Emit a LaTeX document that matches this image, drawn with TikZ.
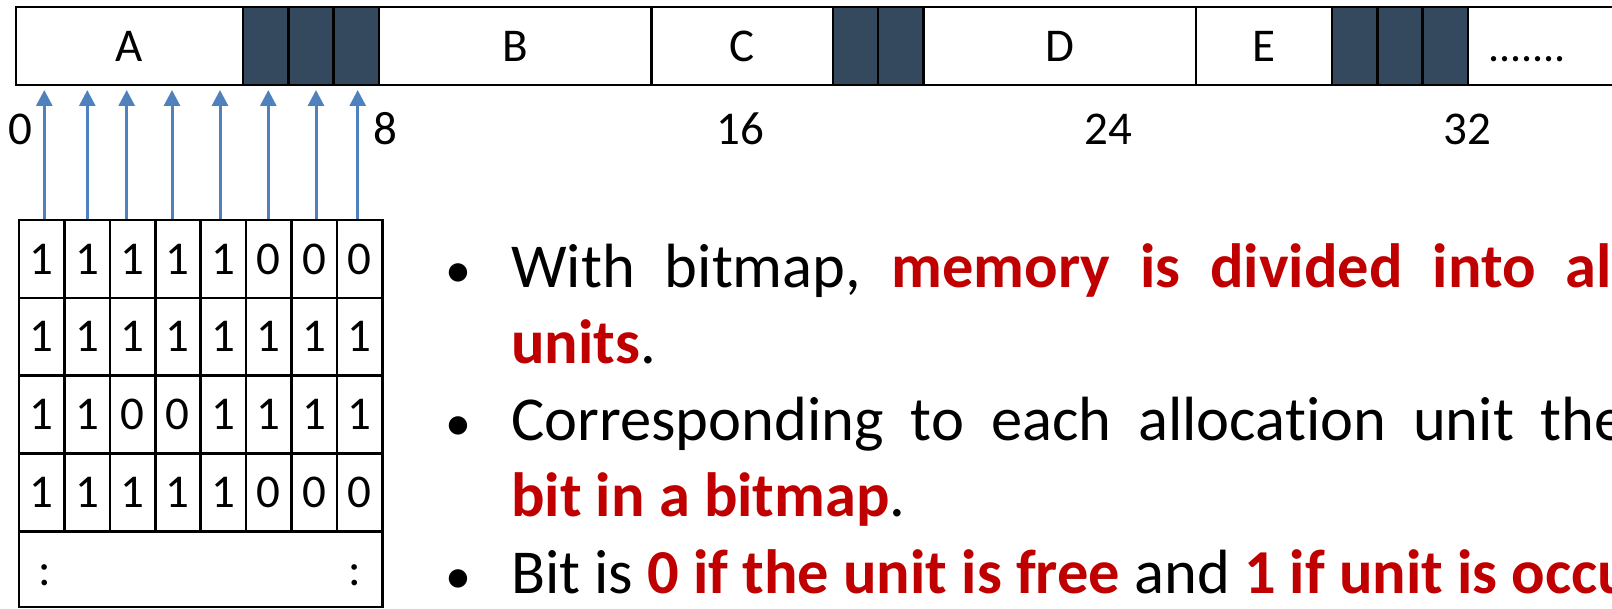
\documentclass[tikz,border=0pt]{standalone}
\usepackage{fontspec}
\setmainfont{Carlito}[Ligatures=NoCommon]
\usetikzlibrary{arrows.meta,calc}
\definecolor{unitused}{RGB}{52,73,94}
\definecolor{ptrblue}{RGB}{79,129,189}
\definecolor{hlred}{RGB}{192,0,0}
\newcommand\hl[1]{\textbf{\color{hlred}#1}}

\begin{document}
\begin{tikzpicture}[x=1pt,y=-1pt,
  seg/.style={draw=black,line width=2.4pt,inner sep=0,minimum height=78pt,
    font=\fontsize{47}{56}\selectfont},
  bitcell/.style={draw=black,line width=2.6pt,inner sep=0,minimum width=45.4pt,
    minimum height=77.9pt,font=\fontsize{47}{56}\selectfont},
  addr/.style={anchor=base,inner sep=0,font=\fontsize{47}{56}\selectfont},
  ptr/.style={draw=ptrblue,line width=3pt,-{Triangle[width=16pt,length=16pt]}},
  txt/.style={anchor=base west,inner sep=0,font=\fontsize{62.5}{75}\selectfont},
  bul/.style={anchor=base,inner sep=0,font=\fontsize{52}{62}\selectfont}]
\useasboundingbox (0,0) rectangle (1612,609);
\clip (0,0) rectangle (1612,609);

% memory strip: processes and free units
\foreach \n/\a/\b/\t/\f in {
  A/16/242.9/A/white, f1/242.9/288.3/{}/unitused, f2/288.3/333.6/{}/unitused,
  f3/333.6/379/{}/unitused, B/379/651.3/B/white, C/651.3/832.8/C/white,
  f4/832.8/878.1/{}/unitused, f5/878.1/923.5/{}/unitused,
  D/923.5/1195.8/D/white, E/1195.8/1331.9/E/white,
  f6/1331.9/1377.3/{}/unitused, f7/1377.3/1422.6/{}/unitused,
  f8/1422.6/1468/{}/unitused, rest/1468/1640/{}/white} {
  \pgfmathsetmacro\w{\b-\a}
  \pgfmathsetmacro\cx{(\a+\b)/2}
  \node[seg,fill=\f,minimum width=\w pt] (\n) at (\cx,46) {\t};
}
\node[anchor=base,inner sep=0,font=\fontsize{44}{52}\selectfont] (dots) at (1527,62) {.......};

% addresses
\node[addr] (a0) at (20,145) {0};
\node[addr] (a8) at (385,145) {8};
\node[addr] (a16) at (740,145) {16};
\node[addr] (a24) at (1108,145) {24};
\node[addr] (a32) at (1467,145) {32};

% bitmap
\foreach \r/\bits in {1/{1,1,1,1,1,0,0,0},2/{1,1,1,1,1,1,1,1},
                      3/{1,1,0,0,1,1,1,1},4/{1,1,1,1,1,0,0,0}} {
  \foreach \v [count=\c] in \bits {
    \node[bitcell] (c-\r-\c) at ({19+45.4*(\c-0.5)},{220+77.9*(\r-0.5)}) {\v};
  }
}
\node[draw=black,line width=2.6pt,inner sep=0,minimum width=363.2pt,
  minimum height=75.4pt] (tail) at (200.6,569.3) {};
\node[addr] (dl) at (45,585) {:};
\node[addr] (dr) at (355,585) {:};

% pointers from the first bitmap row to the memory units
\foreach \i/\x in {1/44.3,2/87.3,3/126.7,4/172,5/220,6/268.3,7/316,8/357.7} {
  \coordinate (t\i) at (\x,90);
  \draw[ptr] (c-1-\i.north -| t\i) -- (t\i);
}

% explanation
\node[bul] (b1) at (458,287.5) {•};
\node[txt] (l1) at (511,287.5) {\spaceskip=30pt With bitmap, \hl{memory is divided into allocation}};
\node[txt] (l2) at (511,363.9) {\hl{units}.};
\node[bul] (b2) at (458,440.3) {•};
\node[txt] (l3) at (511,440.3) {\spaceskip=27pt Corresponding to each allocation unit there is a};
\node[txt] (l4) at (511,516.7) {\hl{bit in a bitmap}.};
\node[bul] (b3) at (458,593.1) {•};
\node[txt] (l5) at (511,593.1) {Bit is \hl{0 if the unit is free} and \hl{1 if unit is occupied}.};
\end{tikzpicture}
\end{document}
